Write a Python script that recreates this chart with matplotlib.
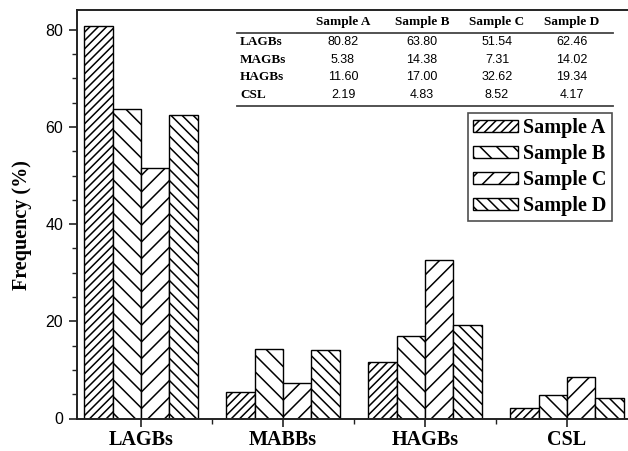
import matplotlib
matplotlib.use('Agg')
import matplotlib.pyplot as plt
import numpy as np

# data
categories = ['LAGBs', 'MABBs', 'HAGBs', 'CSL']
table_rows = ['LAGBs', 'MAGBs', 'HAGBs', 'CSL']
samples = ['Sample A', 'Sample B', 'Sample C', 'Sample D']
sample_a = [80.82, 5.38, 11.60, 2.19]
sample_b = [63.80, 14.38, 17.00, 4.83]
sample_c = [51.54, 7.31, 32.62, 8.52]
sample_d = [62.46, 14.02, 19.34, 4.17]
series = [sample_a, sample_b, sample_c, sample_d]
hatches = ['////', '\\\\', '//', '\\\\\\']

W, H = 628, 451
plt.rcParams['hatch.linewidth'] = 1.1
serif = 'Liberation Serif'
sans = 'Liberation Sans'

fig = plt.figure(figsize=(W / 100, H / 100), dpi=100)
ax = fig.add_axes([77 / W, 32.5 / H, (W - 77) / W, 408.5 / H])

x = np.arange(len(categories))
bw = 0.2
offsets = [-0.3, -0.1, 0.1, 0.3]
for vals, off, hat, lab in zip(series, offsets, hatches, samples):
    ax.bar(x + off, vals, bw, color='white', edgecolor='black',
           linewidth=1.0, hatch=hat, label=lab)

ax.set_xlim(-0.45, 3.43)
ax.set_ylim(0, 84.1)
ax.set_yticks([0, 20, 40, 60, 80])
ax.set_yticks(np.arange(0, 85, 5), minor=True)
ax.set_xticks(x)
ax.set_xticks([0.5, 1.5, 2.5], minor=True)
ax.set_xticklabels(categories, fontfamily=serif, fontweight='bold', fontsize=14.5)
for t in ax.get_yticklabels():
    t.set_fontfamily(sans)
    t.set_fontsize(11.5)
ax.tick_params(axis='both', which='major', direction='out', length=6, width=1.2, colors='#222222')
ax.tick_params(axis='both', which='minor', direction='out', length=3.5, width=1.0, colors='#222222')
ax.tick_params(axis='x', which='major', pad=2, labelcolor='black')
ax.tick_params(axis='y', which='major', pad=4, labelcolor='black')
ax.spines['right'].set_visible(False)
for s in ['left', 'top', 'bottom']:
    ax.spines[s].set_linewidth(1.4)
    ax.spines[s].set_color('#222222')

fig.text(22 / W, 1 - 225 / H, 'Frequency (%)', rotation=90, ha='center', va='center',
         fontfamily=serif, fontweight='bold', fontsize=14.5)

# legend
leg = ax.legend(loc='upper right', bbox_to_anchor=(612 / W, 1 - 113 / H),
                bbox_transform=fig.transFigure, borderaxespad=0,
                prop={'family': serif, 'weight': 'bold', 'size': 14.5},
                handlelength=2.25, handleheight=0.6, handletextpad=0.25,
                labelspacing=0.3, borderpad=0.25, fancybox=False, frameon=True)
leg.get_frame().set_edgecolor('#222222')
leg.get_frame().set_linewidth(1.2)

# inset table
def fp(px, py):
    return px / W, 1 - py / H

col_x = [343, 422, 497, 572]
row_y = [42, 60, 77, 95]
for cx, name in zip(col_x, samples):
    fig.text(*fp(cx, 22), name, ha='center', va='center',
             fontfamily=serif, fontweight='bold', fontsize=9.5)
for ry, rname in zip(row_y, table_rows):
    fig.text(*fp(240, ry), rname, ha='left', va='center',
             fontfamily=serif, fontweight='bold', fontsize=9.5)
for cx, vals in zip(col_x, series):
    for ry, v in zip(row_y, vals):
        fig.text(*fp(cx, ry), f'{v:.2f}', ha='center', va='center',
                 fontfamily=sans, fontsize=9)
for ly in [32.5, 106]:
    fig.add_artist(plt.Line2D([237 / W, 613 / W], [1 - ly / H, 1 - ly / H],
                              transform=fig.transFigure, color='#444444', linewidth=1.3))

fig.savefig('out.png', dpi=100)
